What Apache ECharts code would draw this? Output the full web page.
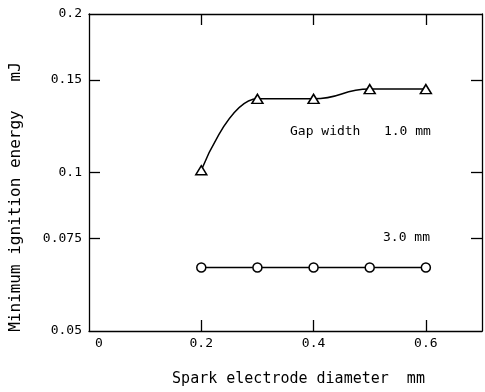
<!DOCTYPE html>
<html>
<head>
<meta charset="utf-8">
<script src="https://cdn.jsdelivr.net/npm/echarts@6/dist/echarts.min.js"></script>
<style>html,body{margin:0;padding:0;background:#fff}#c{width:485px;height:392px}</style>
</head>
<body>
<div id="c"></div>
<script>
// Data
const diameters = [0.2, 0.3, 0.4, 0.5, 0.6];
const gap10Energy = [0.101, 0.138, 0.138, 0.144, 0.144];
const gap30Energy = [0.066, 0.066, 0.066, 0.066, 0.066];
const xTickValues = [0.2, 0.4, 0.6];
const xLabelValues = [0, 0.2, 0.4, 0.6];
const yTickValues = [0.075, 0.1, 0.15];
const yLabelValues = [0.05, 0.075, 0.1, 0.15, 0.2];
const annotations = [
  { text: 'Gap width   1.0 mm', left: 290, top: 125 },
  { text: '3.0 mm', left: 383, top: 231 }
];

const FONT = 'DejaVu Sans Mono';
const chart = echarts.init(document.getElementById('c'), null, { renderer: 'canvas' });
const lineStyleAxis = { color: '#000', width: 1.3 };
const tickStyle = { show: true, inside: true, length: 11, lineStyle: { color: '#000', width: 1.3 } };

const pairs = (xs, ys) => xs.map((x, i) => [x, ys[i]]);

chart.setOption({
  animation: false,
  backgroundColor: '#fff',
  grid: { left: 89, right: 3, top: 14, bottom: 57, containLabel: false },
  xAxis: [
    {
      type: 'value', position: 'bottom', min: 0, max: 0.7,
      axisLine: { show: true, onZero: false, lineStyle: lineStyleAxis },
      axisTick: Object.assign({ customValues: xTickValues }, tickStyle),
      splitLine: { show: false },
      axisLabel: {
        customValues: xLabelValues, margin: 6, color: '#000', fontFamily: FONT, fontSize: 13,
        formatter: v => v === 0 ? '{z|0}' : v.toFixed(1),
        rich: { z: { padding: [0, 0, 0, 20], fontFamily: FONT, fontSize: 13, color: '#000' } }
      },
      name: 'Spark electrode diameter  mm', nameLocation: 'middle', nameGap: 41,
      nameTextStyle: { fontFamily: FONT, fontSize: 15, color: '#000', padding: [0, 0, 0, 26] }
    },
    {
      type: 'value', position: 'top', min: 0, max: 0.7,
      axisLine: { show: true, onZero: false, lineStyle: lineStyleAxis },
      axisTick: Object.assign({ customValues: xTickValues }, tickStyle),
      axisLabel: { show: false }, splitLine: { show: false }
    }
  ],
  yAxis: [
    {
      type: 'log', position: 'left', min: 0.05, max: 0.2,
      axisLine: { show: true, onZero: false, lineStyle: lineStyleAxis },
      axisTick: Object.assign({ customValues: yTickValues }, tickStyle),
      minorTick: { show: false },
      splitLine: { show: false },
      axisLabel: {
        customValues: yLabelValues, margin: 7, color: '#000', fontFamily: FONT, fontSize: 13,
        formatter: v => String(v)
      },
      name: 'Minimum ignition energy   mJ', nameLocation: 'middle', nameGap: 65,
      nameTextStyle: { fontFamily: FONT, fontSize: 16, color: '#000', padding: [0, 49, 0, 0] }
    },
    {
      type: 'log', position: 'right', min: 0.05, max: 0.2,
      axisLine: { show: true, onZero: false, lineStyle: lineStyleAxis },
      axisTick: Object.assign({ customValues: yTickValues }, tickStyle),
      axisLabel: { show: false }, splitLine: { show: false }
    }
  ],
  series: [
    {
      name: 'Gap width 1.0 mm', type: 'line', xAxisIndex: 0, yAxisIndex: 0,
      data: pairs(diameters, gap10Energy),
      smooth: 0.5, smoothMonotone: 'x',
      symbol: 'triangle', symbolSize: [11, 9],
      lineStyle: { color: '#000', width: 1.5 },
      itemStyle: { color: '#fff', borderColor: '#000', borderWidth: 1.5 },
      z: 3
    },
    {
      name: 'Gap width 3.0 mm', type: 'line', xAxisIndex: 0, yAxisIndex: 0,
      data: pairs(diameters, gap30Energy),
      symbol: 'circle', symbolSize: 9,
      lineStyle: { color: '#000', width: 1.5 },
      itemStyle: { color: '#fff', borderColor: '#000', borderWidth: 1.5 },
      z: 3
    }
  ],
  graphic: annotations.map(a => ({
    type: 'text', left: a.left, top: a.top,
    style: { text: a.text, fontFamily: FONT, fontSize: 13, fill: '#000' }
  }))
});
</script>
</body>
</html>
